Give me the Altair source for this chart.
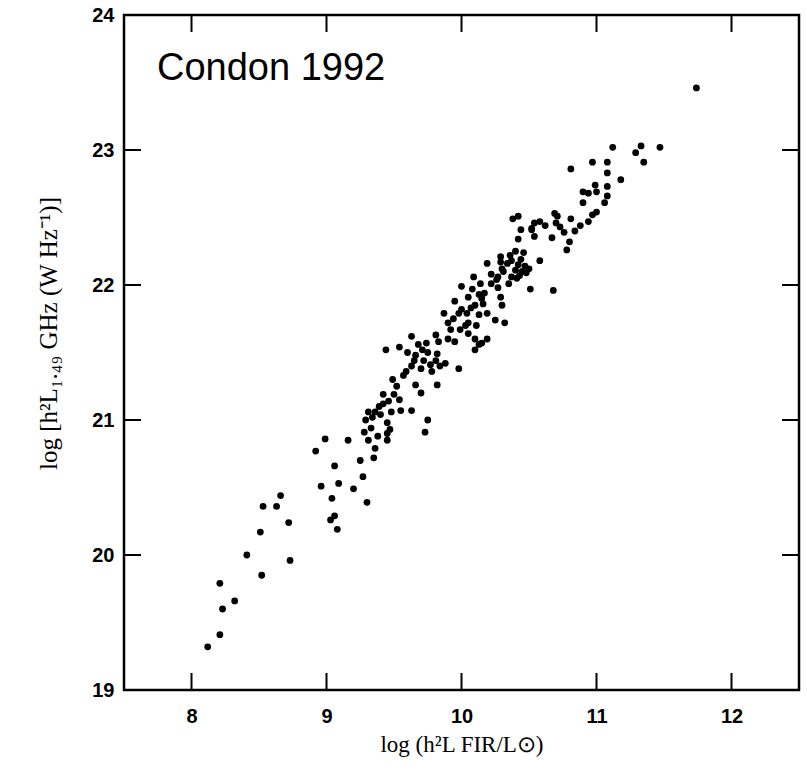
import altair as alt
import pandas as pd

# Data (log L_FIR, log L_1.49GHz)
log_lfir = [
    8.12, 8.21, 8.23, 8.21, 8.32, 8.41, 8.52, 8.51, 8.53, 8.63, 8.66, 8.72, 8.73,
    8.92, 8.96, 9.06, 9.09, 9.04, 9.03, 9.06, 9.08, 9.20, 9.25, 9.27, 9.30, 9.35,
    8.99, 9.16, 9.36, 9.31, 9.28, 9.33, 9.45, 9.45, 9.47, 9.45, 9.31, 9.29, 9.36,
    9.39, 9.42, 9.46, 9.50, 9.42, 9.54, 9.55, 9.63, 9.75, 9.73, 9.49, 9.66, 9.70,
    9.82, 9.59, 9.63, 9.66, 9.72, 9.77, 9.81, 9.88, 9.78, 9.98, 9.68, 9.74, 9.63,
    9.81, 9.83, 9.90, 9.95, 9.44, 9.54, 9.87, 9.90, 9.92, 9.99, 9.98, 10.04, 10.05,
    10.11, 10.05, 10.10, 10.13, 10.10, 10.15, 10.19, 10.13, 10.19, 10.25, 10.32,
    10.30, 9.95, 10.10, 10.16, 9.71, 9.82, 9.84,
    10.42, 10.54, 10.52, 10.67, 10.76, 10.84, 10.80, 10.78, 10.40, 10.46, 10.36,
    10.29, 10.29, 10.19, 10.58, 10.42, 10.47, 10.40, 10.45, 10.48, 10.43, 10.30,
    10.31, 10.27, 10.09, 10.14, 10.22, 10.35, 10.26, 10.27, 10.51, 10.68, 10.00,
    10.08, 10.13, 10.17, 10.05, 10.15, 10.29,
    11.18, 10.99, 11.08, 10.90, 10.94, 11.00, 11.08, 10.90, 11.06, 11.00, 10.97,
    10.94, 10.38, 10.42, 10.69, 10.71, 10.81, 10.58, 10.54, 10.52, 10.44, 10.70,
    10.73, 10.37,
    11.12, 11.33, 11.47, 11.29, 11.35, 10.97, 11.08, 11.08, 10.81, 11.74,
    10.37, 10.44, 10.50, 10.41, 9.34, 9.40, 9.38, 9.48, 9.60, 9.65, 9.70, 9.75,
    10.00, 10.07, 10.03, 10.62, 10.88, 9.94, 9.52, 9.57, 10.22, 10.34,
]
log_l149 = [
    19.32, 19.41, 19.60, 19.79, 19.66, 20.00, 19.85, 20.17, 20.36, 20.36, 20.44, 20.24, 19.96,
    20.77, 20.51, 20.66, 20.53, 20.42, 20.26, 20.29, 20.19, 20.49, 20.70, 20.58, 20.39, 20.72,
    20.86, 20.85, 20.79, 20.85, 20.91, 20.94, 20.90, 20.85, 20.93, 20.98, 21.06, 21.00, 21.06,
    21.10, 21.12, 21.14, 21.19, 21.19, 21.15, 21.07, 21.07, 21.00, 20.91, 21.30, 21.26, 21.20,
    21.26, 21.36, 21.40, 21.48, 21.44, 21.41, 21.44, 21.42, 21.36, 21.38, 21.56, 21.57, 21.62,
    21.63, 21.58, 21.60, 21.58, 21.52, 21.54, 21.79, 21.72, 21.67, 21.67, 21.79, 21.79, 21.72,
    21.70, 21.64, 21.60, 21.56, 21.52, 21.57, 21.60, 21.78, 21.79, 21.74, 21.72,
    21.85, 21.88, 21.85, 21.86, 21.52, 21.49, 21.40,
    22.34, 22.36, 22.41, 22.35, 22.39, 22.40, 22.32, 22.26, 22.25, 22.24, 22.22,
    22.21, 22.17, 22.16, 22.18, 22.15, 22.14, 22.11, 22.10, 22.09, 22.07, 22.12,
    22.10, 22.06, 22.06, 22.01, 22.01, 22.01, 22.04, 21.98, 21.97, 21.96, 21.99,
    21.97, 21.93, 21.94, 21.91, 21.90, 21.91,
    22.78, 22.74, 22.73, 22.69, 22.68, 22.69, 22.66, 22.61, 22.61, 22.54, 22.52,
    22.47, 22.49, 22.51, 22.53, 22.51, 22.49, 22.47, 22.46, 22.42, 22.41, 22.46,
    22.43, 22.06,
    23.02, 23.03, 23.02, 22.98, 22.91, 22.91, 22.91, 22.83, 22.86, 23.46,
    22.18, 22.19, 22.12, 22.05, 21.02, 21.04, 20.88, 21.06, 21.50, 21.44, 21.38, 21.50,
    21.82, 21.83, 21.70, 22.44, 22.44, 21.75, 21.25, 21.33, 22.08, 22.16,
]

x_ticks = [8, 9, 10, 11, 12]
y_ticks = [19, 20, 21, 22, 23, 24]
y_inner_ticks = [20, 21, 22, 23]

X_DOMAIN = [7.5, 12.5]
Y_DOMAIN = [19, 24]
TICK_LEN = 0.126  # inward tick length in data units

points = pd.DataFrame({"lfir": log_lfir, "l149": log_l149})

xs = alt.Scale(domain=X_DOMAIN, nice=False, zero=False)
ys = alt.Scale(domain=Y_DOMAIN, nice=False, zero=False)

x_title = "log  (h²L FIR/L⊙)"
y_title = "log  [h²L₁.₄₉ GHz  (W  Hz⁻¹)]"

x_axis = alt.Axis(values=x_ticks, grid=False, ticks=False, domain=False,
                  labelFont="Liberation Sans", labelFontWeight="bold",
                  labelFontSize=20, labelColor="black", labelPadding=16,
                  titleFont="Liberation Serif", titleFontSize=23,
                  titleFontWeight="normal", titleColor="black", titlePadding=7)
y_axis = alt.Axis(values=y_ticks, grid=False, ticks=False, domain=False,
                  labelFont="Liberation Sans", labelFontWeight="bold",
                  labelFontSize=20, labelColor="black", labelPadding=10,
                  titleFont="Liberation Serif", titleFontSize=25,
                  titleFontWeight="normal", titleColor="black", titlePadding=30,
                  titleY=318)

scatter = alt.Chart(points).mark_circle(color="black", opacity=1, size=46).encode(
    x=alt.X("lfir:Q", scale=xs, title=x_title, axis=x_axis),
    y=alt.Y("l149:Q", scale=ys, title=y_title, axis=y_axis),
)

bottom = pd.DataFrame({"x": x_ticks, "y0": [Y_DOMAIN[0]] * 5, "y1": [Y_DOMAIN[0] + TICK_LEN] * 5})
top = pd.DataFrame({"x": x_ticks, "y0": [Y_DOMAIN[1]] * 5, "y1": [Y_DOMAIN[1] - TICK_LEN] * 5})
left = pd.DataFrame({"y": y_inner_ticks, "x0": [X_DOMAIN[0]] * 4, "x1": [X_DOMAIN[0] + TICK_LEN] * 4})
right = pd.DataFrame({"y": y_inner_ticks, "x0": [X_DOMAIN[1]] * 4, "x1": [X_DOMAIN[1] - TICK_LEN] * 4})

def vticks(df):
    return alt.Chart(df).mark_rule(color="black", strokeWidth=2).encode(
        x=alt.X("x:Q", scale=xs, title=x_title, axis=x_axis),
        y=alt.Y("y0:Q", scale=ys, title=y_title, axis=y_axis),
        y2="y1:Q",
    )

def hticks(df):
    return alt.Chart(df).mark_rule(color="black", strokeWidth=2).encode(
        y=alt.Y("y:Q", scale=ys, title=y_title, axis=y_axis),
        x=alt.X("x0:Q", scale=xs, title=x_title, axis=x_axis),
        x2="x1:Q",
    )

label = alt.Chart(pd.DataFrame({"t": ["Condon 1992"]})).mark_text(
    align="left", baseline="alphabetic", font="Liberation Sans", fontSize=38, color="black"
).encode(x=alt.value(33), y=alt.value(65), text="t:N")

chart = alt.layer(
    scatter, vticks(bottom), vticks(top), hticks(left), hticks(right), label
).properties(
    width=675, height=675,
    autosize=alt.AutoSizeParams(type="none"),
    padding={"left": 124, "top": 15, "right": 8, "bottom": 80},
    background="white",
).configure_view(stroke="black", strokeWidth=2.5)

chart.save("out.html", embed_options={"renderer": "svg", "actions": False})
